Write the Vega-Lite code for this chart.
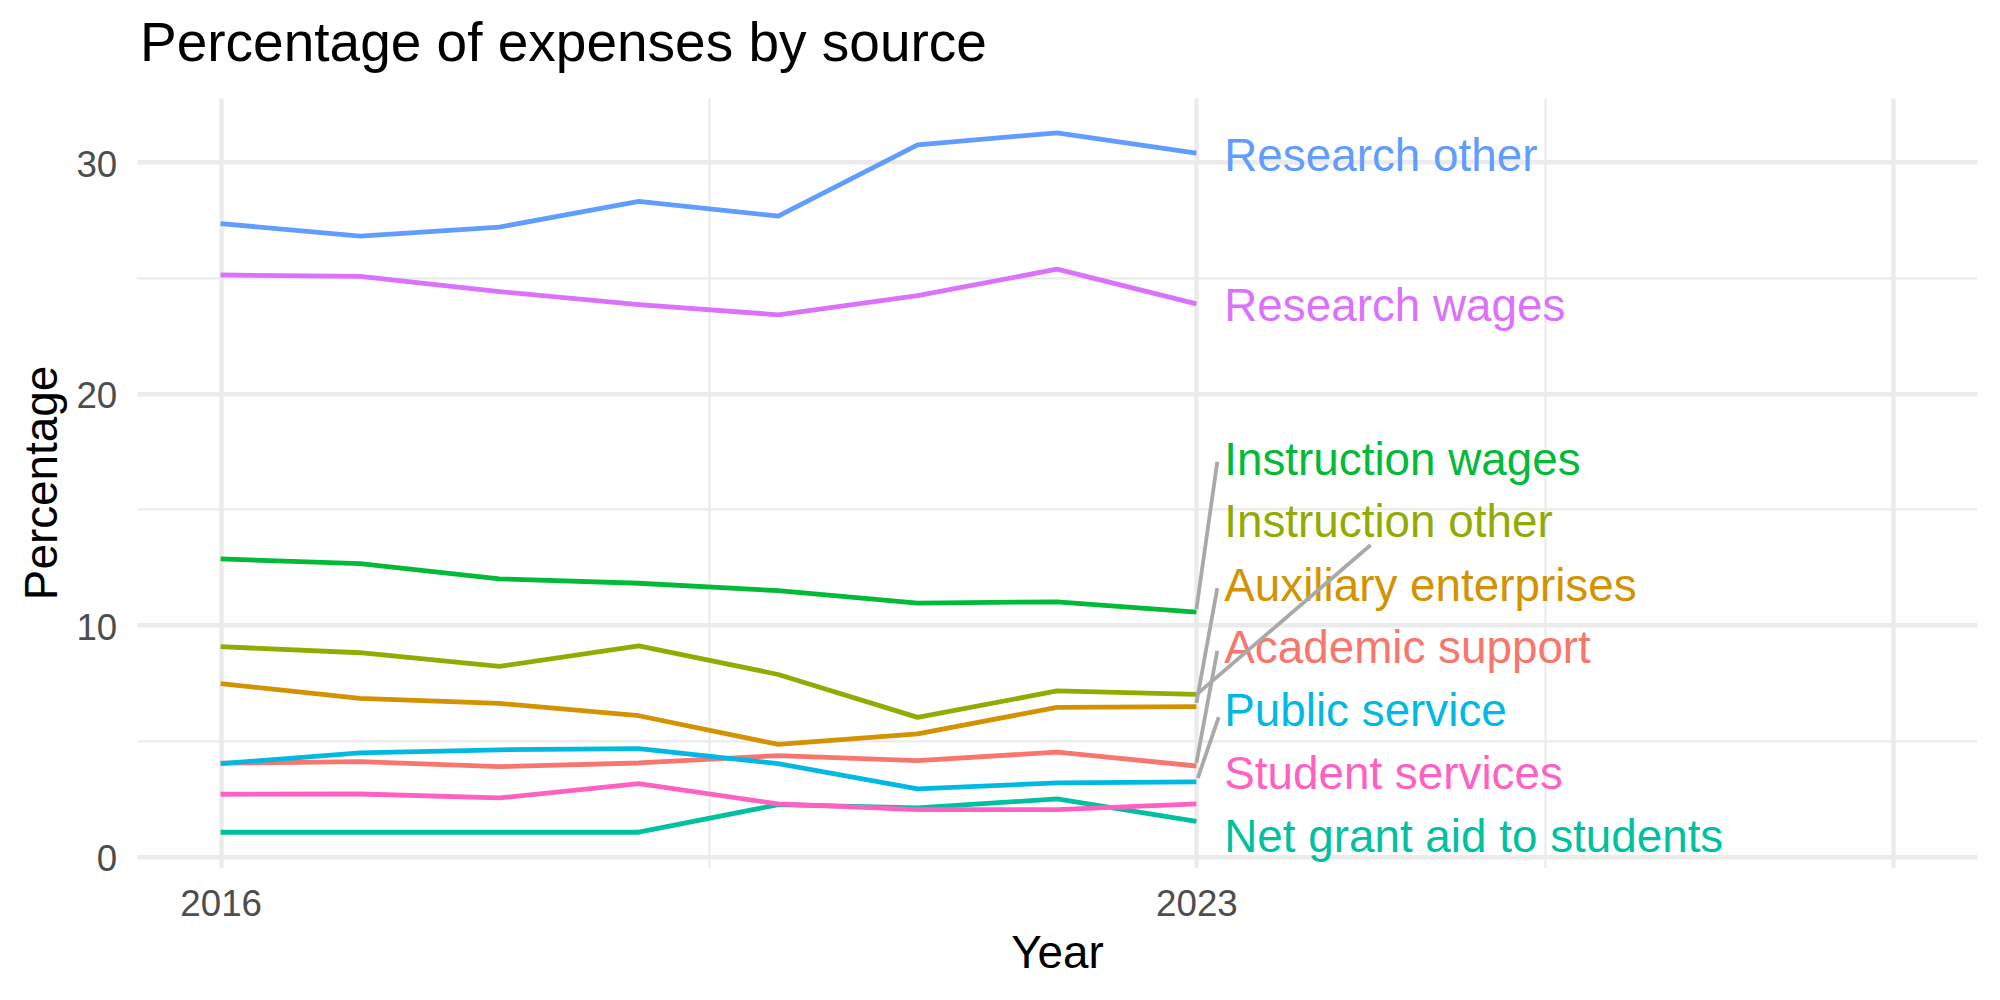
{
  "$schema": "https://vega.github.io/schema/vega-lite/v6.json",
  "width": 1840,
  "height": 769.4,
  "autosize": {"type": "none"},
  "padding": {"left": 137, "top": 97.8, "right": 23, "bottom": 132.8},
  "background": "white",
  "title": {
    "text": "Percentage of expenses by source",
    "anchor": "start",
    "frame": "group",
    "font": "Liberation Sans",
    "fontSize": 55,
    "fontWeight": "normal",
    "color": "black",
    "baseline": "alphabetic",
    "offset": -18,
    "dx": 3
  },
  "datasets": {
    "series": [
      {"category": "Academic support", "year": 2016, "pct": 4.03},
      {"category": "Academic support", "year": 2017, "pct": 4.10},
      {"category": "Academic support", "year": 2018, "pct": 3.88},
      {"category": "Academic support", "year": 2019, "pct": 4.04},
      {"category": "Academic support", "year": 2020, "pct": 4.36},
      {"category": "Academic support", "year": 2021, "pct": 4.14},
      {"category": "Academic support", "year": 2022, "pct": 4.51},
      {"category": "Academic support", "year": 2023, "pct": 3.91},
      {"category": "Auxiliary enterprises", "year": 2016, "pct": 7.47},
      {"category": "Auxiliary enterprises", "year": 2017, "pct": 6.83},
      {"category": "Auxiliary enterprises", "year": 2018, "pct": 6.61},
      {"category": "Auxiliary enterprises", "year": 2019, "pct": 6.08},
      {"category": "Auxiliary enterprises", "year": 2020, "pct": 4.84},
      {"category": "Auxiliary enterprises", "year": 2021, "pct": 5.30},
      {"category": "Auxiliary enterprises", "year": 2022, "pct": 6.44},
      {"category": "Auxiliary enterprises", "year": 2023, "pct": 6.47},
      {"category": "Instruction other", "year": 2016, "pct": 9.06},
      {"category": "Instruction other", "year": 2017, "pct": 8.80},
      {"category": "Instruction other", "year": 2018, "pct": 8.21},
      {"category": "Instruction other", "year": 2019, "pct": 9.10},
      {"category": "Instruction other", "year": 2020, "pct": 7.86},
      {"category": "Instruction other", "year": 2021, "pct": 6.01},
      {"category": "Instruction other", "year": 2022, "pct": 7.15},
      {"category": "Instruction other", "year": 2023, "pct": 7.00},
      {"category": "Instruction wages", "year": 2016, "pct": 12.85},
      {"category": "Instruction wages", "year": 2017, "pct": 12.65},
      {"category": "Instruction wages", "year": 2018, "pct": 11.99},
      {"category": "Instruction wages", "year": 2019, "pct": 11.80},
      {"category": "Instruction wages", "year": 2020, "pct": 11.48},
      {"category": "Instruction wages", "year": 2021, "pct": 10.94},
      {"category": "Instruction wages", "year": 2022, "pct": 11.00},
      {"category": "Instruction wages", "year": 2023, "pct": 10.55},
      {"category": "Net grant aid to students", "year": 2016, "pct": 1.05},
      {"category": "Net grant aid to students", "year": 2017, "pct": 1.05},
      {"category": "Net grant aid to students", "year": 2018, "pct": 1.05},
      {"category": "Net grant aid to students", "year": 2019, "pct": 1.05},
      {"category": "Net grant aid to students", "year": 2020, "pct": 2.24},
      {"category": "Net grant aid to students", "year": 2021, "pct": 2.10},
      {"category": "Net grant aid to students", "year": 2022, "pct": 2.49},
      {"category": "Net grant aid to students", "year": 2023, "pct": 1.52},
      {"category": "Public service", "year": 2016, "pct": 4.01},
      {"category": "Public service", "year": 2017, "pct": 4.48},
      {"category": "Public service", "year": 2018, "pct": 4.61},
      {"category": "Public service", "year": 2019, "pct": 4.66},
      {"category": "Public service", "year": 2020, "pct": 4.01},
      {"category": "Public service", "year": 2021, "pct": 2.92},
      {"category": "Public service", "year": 2022, "pct": 3.18},
      {"category": "Public service", "year": 2023, "pct": 3.22},
      {"category": "Research other", "year": 2016, "pct": 27.33},
      {"category": "Research other", "year": 2017, "pct": 26.79},
      {"category": "Research other", "year": 2018, "pct": 27.18},
      {"category": "Research other", "year": 2019, "pct": 28.29},
      {"category": "Research other", "year": 2020, "pct": 27.65},
      {"category": "Research other", "year": 2021, "pct": 30.73},
      {"category": "Research other", "year": 2022, "pct": 31.25},
      {"category": "Research other", "year": 2023, "pct": 30.37},
      {"category": "Research wages", "year": 2016, "pct": 25.11},
      {"category": "Research wages", "year": 2017, "pct": 25.05},
      {"category": "Research wages", "year": 2018, "pct": 24.39},
      {"category": "Research wages", "year": 2019, "pct": 23.83},
      {"category": "Research wages", "year": 2020, "pct": 23.39},
      {"category": "Research wages", "year": 2021, "pct": 24.22},
      {"category": "Research wages", "year": 2022, "pct": 25.36},
      {"category": "Research wages", "year": 2023, "pct": 23.86},
      {"category": "Student services", "year": 2016, "pct": 2.69},
      {"category": "Student services", "year": 2017, "pct": 2.70},
      {"category": "Student services", "year": 2018, "pct": 2.53},
      {"category": "Student services", "year": 2019, "pct": 3.15},
      {"category": "Student services", "year": 2020, "pct": 2.27},
      {"category": "Student services", "year": 2021, "pct": 2.03},
      {"category": "Student services", "year": 2022, "pct": 2.03},
      {"category": "Student services", "year": 2023, "pct": 2.27}
    ],
    "labels": [
      {"category": "Research other", "year": 2023.2, "pct": 29.58},
      {"category": "Research wages", "year": 2023.2, "pct": 23.13},
      {"category": "Instruction wages", "year": 2023.2, "pct": 16.47},
      {"category": "Instruction other", "year": 2023.2, "pct": 13.79},
      {"category": "Auxiliary enterprises", "year": 2023.2, "pct": 11.04},
      {"category": "Academic support", "year": 2023.2, "pct": 8.34},
      {"category": "Public service", "year": 2023.2, "pct": 5.65},
      {"category": "Student services", "year": 2023.2, "pct": 2.92},
      {"category": "Net grant aid to students", "year": 2023.2, "pct": 0.19}
    ],
    "segments": [
      {"category": "Instruction wages", "year": 2023.0, "pct": 10.68, "year_end": 2023.15, "pct_end": 17.05},
      {"category": "Instruction other", "year": 2023.0, "pct": 6.99, "year_end": 2024.25, "pct_end": 13.45},
      {"category": "Auxiliary enterprises", "year": 2023.0, "pct": 6.63, "year_end": 2023.15, "pct_end": 11.59},
      {"category": "Academic support", "year": 2023.0, "pct": 4.04, "year_end": 2023.15, "pct_end": 8.88},
      {"category": "Public service", "year": 2023.01, "pct": 3.39, "year_end": 2023.16, "pct_end": 6.02}
    ]
  },
  "encoding": {
    "x": {
      "field": "year",
      "type": "quantitative",
      "scale": {"domain": [2015.4, 2028.6], "nice": false, "zero": false},
      "axis": {
        "title": "Year",
        "values": [2016, 2019.5, 2023, 2025.5, 2028],
        "format": "d",
        "labelExpr": "datum.value == 2016 || datum.value == 2023 ? datum.label : ''",
        "domain": false,
        "ticks": false,
        "tickSize": 0,
        "labelPadding": 47.8,
        "labelBaseline": "alphabetic",
        "labelFont": "Liberation Sans",
        "labelFontSize": 36.7,
        "labelColor": "#4D4D4D",
        "labelOverlap": false,
        "labelFlush": false,
        "grid": true,
        "gridColor": "#EBEBEB",
        "gridWidth": {"condition": {"test": "datum.value == 2019.5 || datum.value == 2025.5", "value": 2.2}, "value": 4.4},
        "titleFont": "Liberation Sans",
        "titleFontSize": 45.8,
        "titleFontWeight": "normal",
        "titleColor": "black",
        "titleBaseline": "alphabetic",
        "titleAlign": "center",
        "titleX": 920,
        "titleY": 100.1
      }
    },
    "y": {
      "field": "pct",
      "type": "quantitative",
      "scale": {"domain": [-0.46, 32.76], "nice": false, "zero": false},
      "axis": {
        "title": "Percentage",
        "values": [0, 5, 10, 15, 20, 25, 30],
        "labelExpr": "datum.value % 10 == 0 ? datum.label : ''",
        "domain": false,
        "ticks": false,
        "tickSize": 0,
        "labelPadding": 20.3,
        "labelAlign": "right",
        "labelBaseline": "alphabetic",
        "labelOffset": 14.4,
        "labelFont": "Liberation Sans",
        "labelFontSize": 36.7,
        "labelColor": "#4D4D4D",
        "labelOverlap": false,
        "labelFlush": false,
        "grid": true,
        "gridColor": "#EBEBEB",
        "gridWidth": {"condition": {"test": "datum.value % 10 != 0", "value": 2.2}, "value": 4.4},
        "titleFont": "Liberation Sans",
        "titleFontSize": 45.8,
        "titleFontWeight": "normal",
        "titleColor": "black",
        "titleAngle": 270,
        "titleBaseline": "alphabetic",
        "titleAlign": "center",
        "titleX": -80.3,
        "titleY": 384.7
      }
    }
  },
  "layer": [
    {
      "data": {"name": "series"},
      "mark": {"type": "line", "strokeWidth": 4.8, "strokeJoin": "round", "strokeCap": "butt"},
      "encoding": {
        "color": {
          "field": "category",
          "type": "nominal",
          "legend": null,
          "scale": {
            "domain": ["Academic support", "Auxiliary enterprises", "Instruction other", "Instruction wages", "Net grant aid to students", "Public service", "Research other", "Research wages", "Student services"],
            "range": ["#F8766D", "#D39200", "#93AA00", "#00BA38", "#00C19F", "#00B9E3", "#619CFF", "#DB72FB", "#FF61C3"]
          }
        }
      }
    },
    {
      "data": {"name": "labels"},
      "mark": {"type": "text", "align": "left", "baseline": "alphabetic", "font": "Liberation Sans", "fontSize": 45.8},
      "encoding": {
        "text": {"field": "category"},
        "color": {
          "field": "category",
          "type": "nominal",
          "legend": null,
          "scale": {
            "domain": ["Academic support", "Auxiliary enterprises", "Instruction other", "Instruction wages", "Net grant aid to students", "Public service", "Research other", "Research wages", "Student services"],
            "range": ["#F8766D", "#D39200", "#93AA00", "#00BA38", "#00C19F", "#00B9E3", "#619CFF", "#DB72FB", "#FF61C3"]
          }
        }
      }
    },
    {
      "data": {"name": "segments"},
      "mark": {"type": "rule", "color": "#A9A9A9", "strokeWidth": 3.8},
      "encoding": {
        "x2": {"field": "year_end"},
        "y2": {"field": "pct_end"}
      }
    }
  ],
  "config": {
    "view": {"stroke": null},
    "font": "Liberation Sans"
  }
}
